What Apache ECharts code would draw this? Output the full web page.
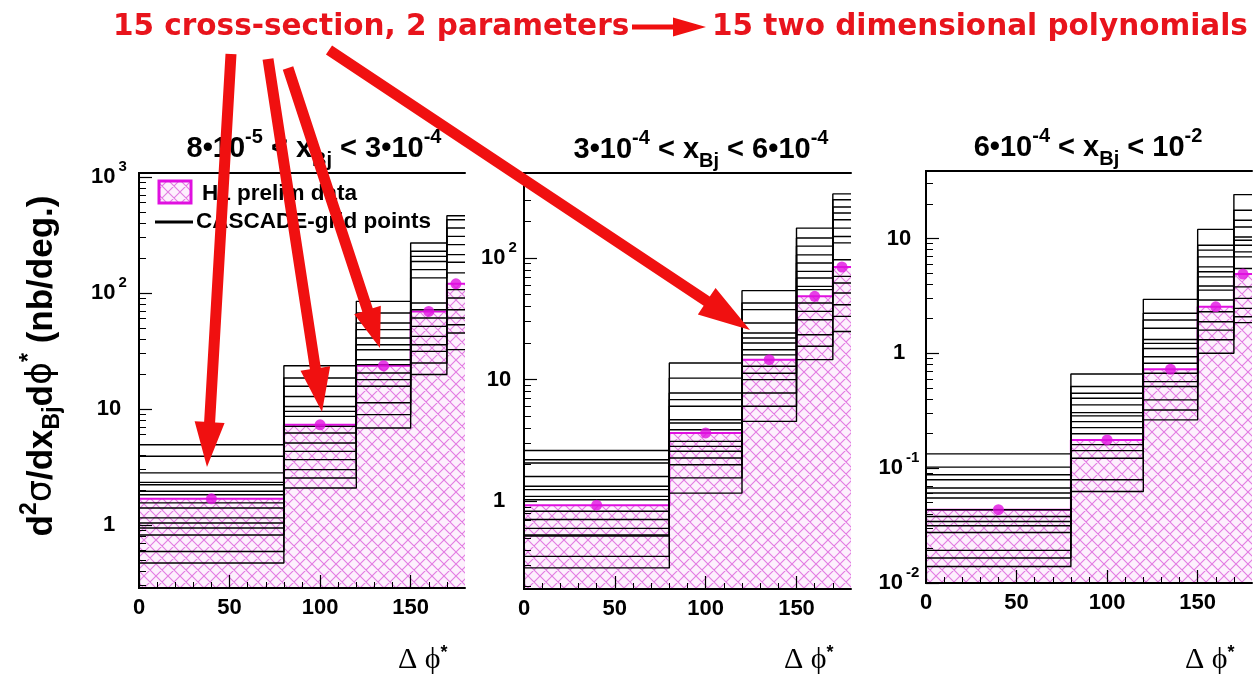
<!DOCTYPE html>
<html><head><meta charset="utf-8">
<script src="https://cdn.jsdelivr.net/npm/echarts@6/dist/echarts.min.js"></script>
<style>html,body{margin:0;padding:0;background:#fff}#c{width:1258px;height:678px}</style>
</head><body><div id="c"></div>
<script>
// ---------------- data ----------------
const binEdges = [0, 80, 120, 150, 170, 180];
const binCenters = [40, 100, 135, 160, 175];
const xTickLabels = [0, 50, 100, 150];
const xMinorTicks = [10, 20, 30, 40, 60, 70, 80, 90, 110, 120, 130, 140, 160, 170];

const panelTitles = [
  '{n|8•10}{s|-5}{n| < x}{d|Bj}{n| < 3•10}{s|-4}',
  '{n|3•10}{s|-4}{n| < x}{d|Bj}{n| < 6•10}{s|-4}',
  '{n|6•10}{s|-4}{n| < x}{d|Bj}{n| < 10}{s|-2}'
];

// H1 preliminary data (hatched histogram + points), per Δφ* bin
const p1Data = [1.68, 7.3, 23.6, 69.4, 120];
const p2Data = [0.93, 3.65, 14.6, 48.4, 84.3];
const p3Data = [0.0434, 0.176, 0.726, 2.54, 4.90];

// CASCADE grid points: 15 values per bin (ordered high to low)
const p1Bin1 = [4.92, 3.91, 2.81, 2.33, 2.22, 1.95, 1.82, 1.55, 1.40, 1.15, 1.04, 0.94, 0.82, 0.59, 0.47];
const p1Bin2 = [23.6, 18.5, 15.7, 12.8, 10.5, 9.53, 8.63, 7.08, 6.21, 5.09, 4.31, 3.66, 3.00, 2.54, 2.08];
const p1Bin3 = [84.7, 67.3, 55.1, 48.3, 40.9, 35.8, 32.4, 26.6, 24.1, 20.4, 17.9, 15.7, 11.3, 8.93, 6.86];
const p1Bin4 = [270, 229, 207, 187, 159, 135, 82, 71.8, 60.9, 51.5, 42.3, 35.8, 31.4, 24.9, 19.8];
const p1Bin5 = [464, 428, 363, 308, 261, 214, 184, 149, 107, 90.6, 71.8, 60.9, 53.3, 45.2, 32.5];

const p2Bin1 = [2.62, 2.20, 2.07, 1.60, 1.33, 1.25, 1.10, 1.03, 0.83, 0.71, 0.60, 0.53, 0.52, 0.353, 0.284];
const p2Bin2 = [13.7, 10.3, 7.78, 6.85, 6.04, 4.69, 4.41, 3.88, 3.11, 2.83, 2.58, 2.27, 2.00, 1.56, 1.17];
const p2Bin3 = [53.9, 42.7, 37.6, 29.2, 24.2, 22.0, 20.0, 17.6, 16.0, 12.9, 11.3, 10.0, 7.78, 6.04, 4.54];
const p2Bin4 = [176, 146, 125, 106, 91, 77.6, 68.5, 58.4, 54.9, 42.7, 36.4, 31.1, 23.4, 18.8, 14.6];
const p2Bin5 = [336, 301, 262, 234, 206, 176, 150, 133, 96.8, 70.6, 62.3, 51.5, 41.3, 33.1, 24.9];

const p3Bin1 = [0.133, 0.102, 0.0875, 0.0791, 0.0670, 0.0606, 0.0549, 0.0434, 0.0379, 0.0343, 0.0315, 0.0275, 0.0192, 0.0165, 0.0139];
const p3Bin2 = [0.661, 0.513, 0.449, 0.406, 0.355, 0.304, 0.285, 0.254, 0.225, 0.199, 0.160, 0.142, 0.122, 0.0791, 0.0626];
const p3Bin3 = [2.95, 2.23, 1.95, 1.65, 1.32, 1.22, 1.10, 0.934, 0.819, 0.670, 0.566, 0.513, 0.393, 0.321, 0.263];
const p3Bin4 = [12.0, 8.74, 7.91, 6.92, 5.66, 5.13, 4.63, 3.85, 3.55, 2.91, 2.30, 1.88, 1.59, 1.31, 1.00];
const p3Bin5 = [24.1, 17.6, 14.4, 12.6, 10.3, 9.66, 8.74, 7.64, 6.92, 5.48, 3.79, 3.01, 2.46, 2.08, 1.85];

// y axis ranges and tick values
const p1YRange = [0.286, 1083];
const p2YRange = [0.1906, 499];
const p3YRange = [0.00998, 38.7];
const p1YLabels = [1, 10, 100, 1000];
const p2YLabels = [1, 10, 100];
const p3YLabels = [0.01, 0.1, 1, 10];

// ---------------- layout ----------------
const panels = [
  { data: p1Data, bins: [p1Bin1, p1Bin2, p1Bin3, p1Bin4, p1Bin5], yr: p1YRange, yl: p1YLabels,
    grid: { left: 139, top: 173, width: 326, height: 415 }, labMargin: 30, tx: 314, ty: 149 },
  { data: p2Data, bins: [p2Bin1, p2Bin2, p2Bin3, p2Bin4, p2Bin5], yr: p2YRange, yl: p2YLabels,
    grid: { left: 524, top: 173, width: 327, height: 416 }, labMargin: 25, tx: 701, ty: 150 },
  { data: p3Data, bins: [p3Bin1, p3Bin2, p3Bin3, p3Bin4, p3Bin5], yr: p3YRange, yl: p3YLabels,
    grid: { left: 926, top: 171, width: 326, height: 412 }, labMargin: 27, tx: 1088, ty: 148 }
];

function minorLogTicks(lo, hi) {
  const out = [];
  for (let e = -3; e <= 3; e++) for (let m = 2; m <= 9; m++) {
    const v = +(m * Math.pow(10, e)).toPrecision(3);
    if (v > lo && v < hi) out.push(v);
  }
  return out;
}

function makeHatch() {
  const s = 12, c = document.createElement('canvas');
  c.width = s; c.height = s;
  const g = c.getContext('2d');
  g.fillStyle = '#fdf0fd'; g.fillRect(0, 0, s, s);
  g.strokeStyle = '#e27ae2'; g.lineWidth = 1.1;
  g.beginPath();
  for (const o of [-s, 0, s]) {
    g.moveTo(o - 1, -1); g.lineTo(o + s + 1, s + 1);
    g.moveTo(o + s + 1, -1); g.lineTo(o - 1, s + 1);
  }
  g.stroke();
  return c;
}
const hatch = { image: makeHatch(), repeat: 'repeat' };

const FONT = '"Liberation Sans", Arial, Helvetica, sans-serif';
const MAG = '#e010e0';

function yLabelFmt(v) {
  const e = Math.round(Math.log10(v));
  if (e === 0) return '{b|1}';
  if (e === 1) return '{b|10}';
  return '{b|10}{s|' + e + '}';
}

const grids = [], xAxes = [], yAxes = [], series = [];
panels.forEach((P, p) => {
  grids.push(Object.assign({ show: false, containLabel: false }, P.grid));
  const baseX = { gridIndex: p, type: 'value', min: 0, max: 180, z: 10, splitLine: { show: false } };
  xAxes.push(Object.assign({}, baseX, {
    position: 'bottom',
    axisLine: { show: true, lineStyle: { color: '#000', width: 2 } },
    axisTick: { show: true, inside: true, length: 13, customValues: xTickLabels, lineStyle: { color: '#000', width: 1.2 } },
    axisLabel: { show: true, customValues: xTickLabels, color: '#000', fontFamily: FONT, fontWeight: 'bold', fontSize: 22, margin: 9 }
  }));
  xAxes.push(Object.assign({}, baseX, {
    position: 'bottom',
    axisLine: { show: false },
    axisTick: { show: true, inside: true, length: 6, customValues: xMinorTicks, lineStyle: { color: '#000', width: 1 } },
    axisLabel: { show: false }
  }));
  xAxes.push(Object.assign({}, baseX, {
    position: 'top',
    axisLine: { show: true, lineStyle: { color: '#000', width: 2 } },
    axisTick: { show: false }, axisLabel: { show: false }
  }));
  const baseY = { gridIndex: p, type: 'log', logBase: 10, min: P.yr[0], max: P.yr[1], z: 10, splitLine: { show: false } };
  yAxes.push(Object.assign({}, baseY, {
    position: 'left',
    axisLine: { show: true, lineStyle: { color: '#000', width: 2 } },
    axisTick: { show: true, inside: true, length: 13, customValues: P.yl, lineStyle: { color: '#000', width: 1.2 } },
    axisLabel: {
      show: true, customValues: P.yl, formatter: yLabelFmt, align: 'center', margin: P.labMargin,
      rich: {
        b: { fontFamily: FONT, fontWeight: 'bold', fontSize: 22, color: '#000' },
        s: { fontFamily: FONT, fontWeight: 'bold', fontSize: 15, color: '#000', padding: [0, 0, 20, 3] }
      }
    }
  }));
  yAxes.push(Object.assign({}, baseY, {
    position: 'left',
    axisLine: { show: false },
    axisTick: { show: true, inside: true, length: 7, customValues: minorLogTicks(P.yr[0], P.yr[1]), lineStyle: { color: '#000', width: 1 } },
    axisLabel: { show: false }
  }));
  yAxes.push(Object.assign({}, baseY, {
    position: 'right',
    axisLine: { show: true, lineStyle: { color: '#000', width: 2 } },
    axisTick: { show: false }, axisLabel: { show: false }
  }));

  const xi = 3 * p, yi = 3 * p;
  // hatched data histogram
  series.push({
    type: 'line', xAxisIndex: xi, yAxisIndex: yi, step: 'end', symbol: 'none', silent: true, z: 1,
    data: binEdges.map((e, k) => [e, P.data[Math.min(k, 4)]]),
    lineStyle: { color: MAG, width: 2 },
    areaStyle: { color: hatch, origin: 'start', opacity: 1 }
  });
  // 15 CASCADE grid-point histograms
  for (let i = 0; i < 15; i++) {
    series.push({
      type: 'line', xAxisIndex: xi, yAxisIndex: yi, step: 'end', symbol: 'none', silent: true, z: 2,
      data: binEdges.map((e, k) => [e, P.bins[Math.min(k, 4)][i]]),
      lineStyle: { color: '#000', width: 1.4 }
    });
  }
  // data points
  series.push({
    type: 'scatter', xAxisIndex: xi, yAxisIndex: yi, symbolSize: 11, z: 3, silent: true,
    data: binCenters.map((c, k) => [c, P.data[k]]),
    itemStyle: { color: MAG }
  });
});

// ---------------- annotations ----------------
function arrowPts(x0, y0, x1, y1, w, L, W) {
  const dx = x1 - x0, dy = y1 - y0, len = Math.hypot(dx, dy);
  const ux = dx / len, uy = dy / len, nx = -uy, ny = ux;
  const bx = x1 - ux * L, by = y1 - uy * L;
  return [[x0 + nx * w / 2, y0 + ny * w / 2], [bx + nx * w / 2, by + ny * w / 2], [bx + nx * W / 2, by + ny * W / 2],
          [x1, y1], [bx - nx * W / 2, by - ny * W / 2], [bx - nx * w / 2, by - ny * w / 2], [x0 - nx * w / 2, y0 - ny * w / 2]];
}
const RED = '#f01010';
const graphics = [];
const redArrows = [
  [231, 54, 207, 467, 11, 45, 30],
  [268, 59, 322, 412, 11, 44, 30],
  [288, 68, 380, 348, 11, 40, 28],
  [329, 50, 750, 330, 11, 52, 32],
  [632, 27, 706, 27, 5, 33, 19]
];
redArrows.forEach(a => graphics.push({ type: 'polygon', z: 100, silent: true, shape: { points: arrowPts(...a) }, style: { fill: RED } }));

const topFont = { fontFamily: '"DejaVu Sans", "Open Sans", sans-serif', fontWeight: 'bold', fontSize: 29.5 };
graphics.push({ type: 'text', z: 90, x: 113, y: 27, style: Object.assign({ text: '15 cross-section, 2 parameters', fill: '#e8141c', verticalAlign: 'middle', align: 'left' }, topFont) });
graphics.push({ type: 'text', z: 90, x: 712, y: 27, style: Object.assign({ text: '15 two dimensional polynomials', fill: '#e8141c', verticalAlign: 'middle', align: 'left' }, topFont) });

// panel titles
const titleRich = {
  n: { fontFamily: FONT, fontWeight: 'bold', fontSize: 29, fill: '#000' },
  s: { fontFamily: FONT, fontWeight: 'bold', fontSize: 20, fill: '#000', padding: [0, 0, 24, 0] },
  d: { fontFamily: FONT, fontWeight: 'bold', fontSize: 20, fill: '#000', padding: [22, 0, 0, 0] }
};
panels.forEach((P, p) => {
  graphics.push({ type: 'text', z: 20, x: P.tx, y: P.ty, style: { text: panelTitles[p], rich: titleRich, align: 'center', verticalAlign: 'middle' } });
  graphics.push({ type: 'text', z: 20, x: P.grid.left + P.grid.width - 67, y: 660,
    style: { text: '{a|Δ ϕ}{s|*}', align: 'left', verticalAlign: 'middle',
      rich: { a: { fontFamily: '"Liberation Serif", "DejaVu Serif", serif', fontSize: 30, fill: '#000' },
              s: { fontFamily: FONT, fontWeight: 'bold', fontSize: 18, fill: '#000', padding: [0, 0, 14, 0] } } } });
});

// y axis title
graphics.push({ type: 'text', z: 20, x: 42, y: 366, rotation: Math.PI / 2,
  style: { text: '{n|d}{s|2}{g|σ}{n|/dx}{d|Bj}{n|d}{g|ϕ}{s|*}{n| (nb/deg.)}', align: 'center', verticalAlign: 'middle',
    rich: {
      n: { fontFamily: FONT, fontWeight: 'bold', fontSize: 35, fill: '#000' },
      g: { fontFamily: '"DejaVu Sans", sans-serif', fontSize: 35, fill: '#000' },
      s: { fontFamily: FONT, fontWeight: 'bold', fontSize: 23, fill: '#000', padding: [0, 0, 24, 0] },
      d: { fontFamily: FONT, fontWeight: 'bold', fontSize: 23, fill: '#000', padding: [22, 0, 0, 0] }
    } } });

// legend (panel 1)
graphics.push({ type: 'rect', z: 50, shape: { x: 159, y: 181, width: 32, height: 22 }, style: { fill: hatch, stroke: MAG, lineWidth: 3 } });
graphics.push({ type: 'text', z: 50, x: 202, y: 194, style: { text: 'H1 prelim data', fontFamily: FONT, fontWeight: 'bold', fontSize: 22.5, fill: '#000', verticalAlign: 'middle' } });
graphics.push({ type: 'line', z: 50, shape: { x1: 155, y1: 222, x2: 193, y2: 222 }, style: { stroke: '#000', lineWidth: 3 } });
graphics.push({ type: 'text', z: 50, x: 196, y: 222, style: { text: 'CASCADE-grid points', fontFamily: FONT, fontWeight: 'bold', fontSize: 22.5, fill: '#000', verticalAlign: 'middle' } });

const chart = echarts.init(document.getElementById('c'), null, { renderer: 'canvas' });
chart.setOption({
  animation: false,
  backgroundColor: '#fff',
  grid: grids, xAxis: xAxes, yAxis: yAxes, series: series,
  graphic: { elements: graphics }
});
</script>
</body></html>
